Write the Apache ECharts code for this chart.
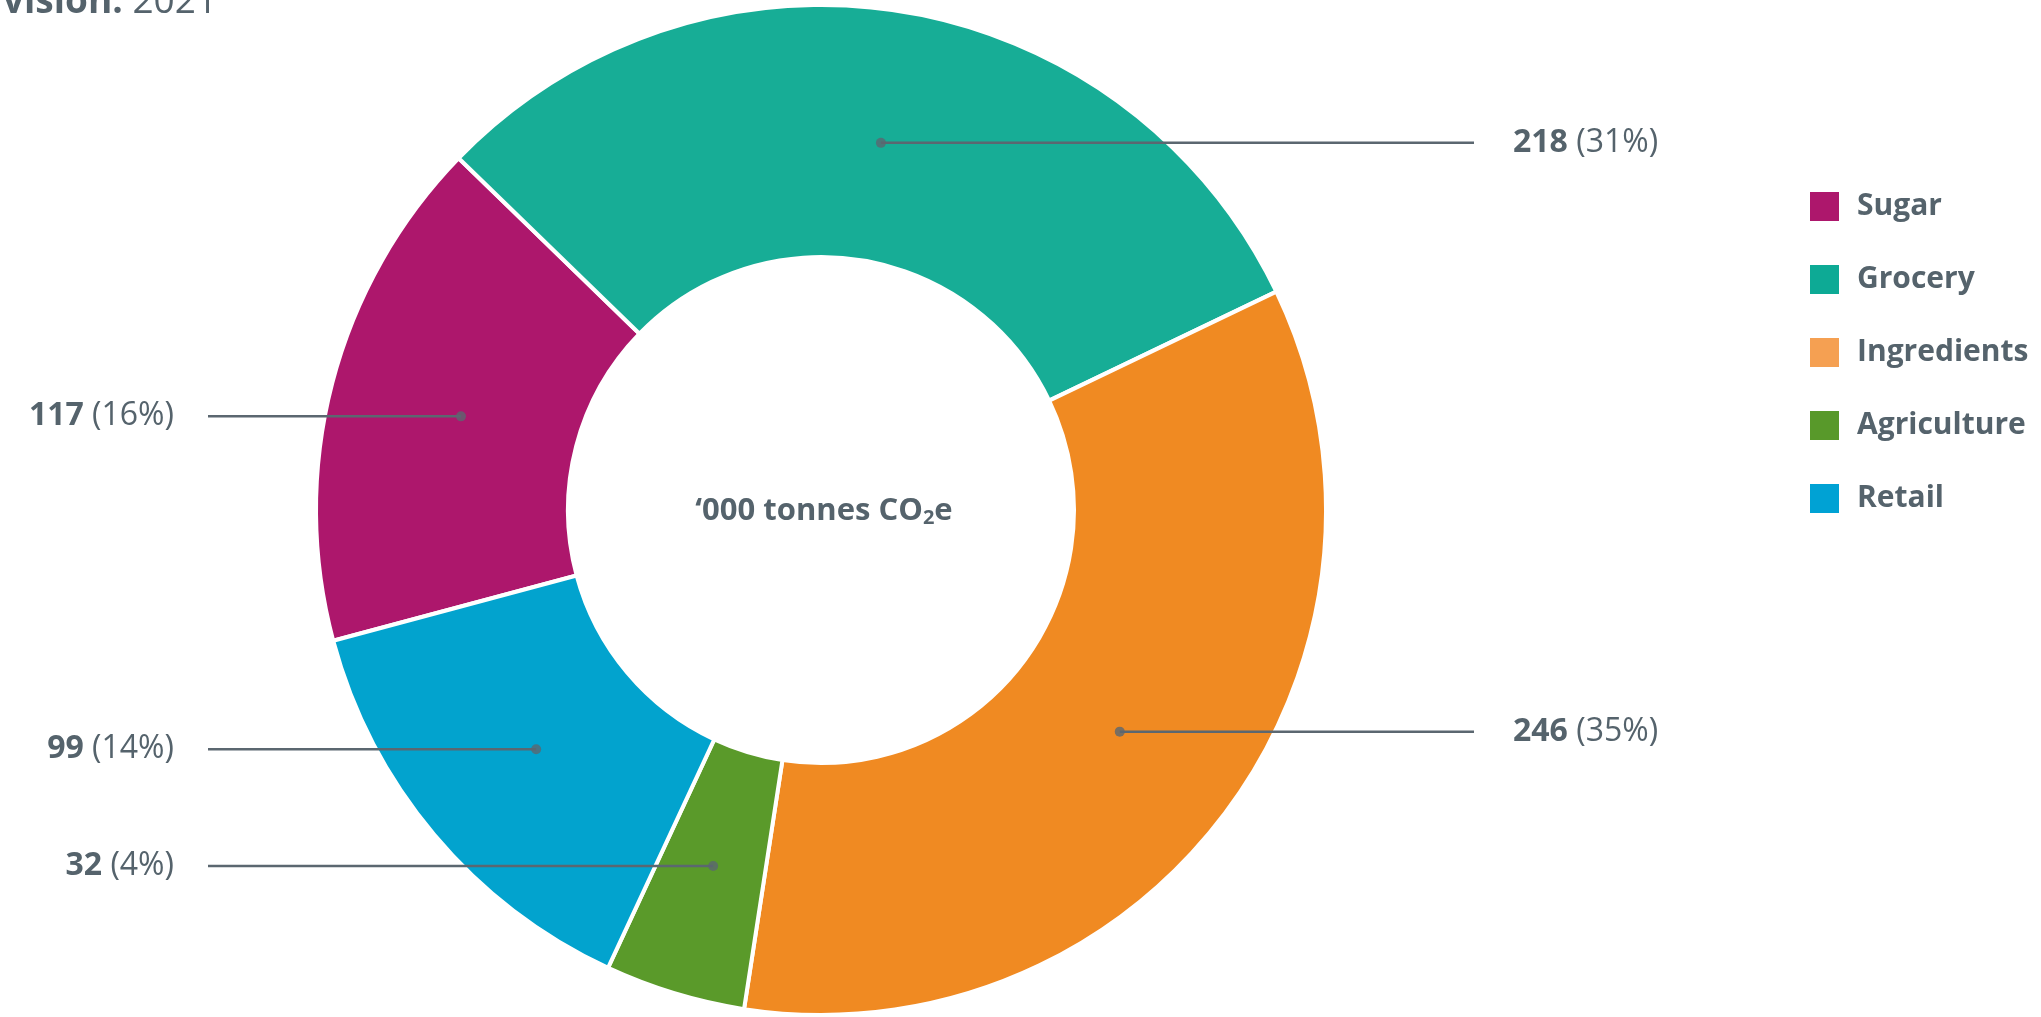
<!DOCTYPE html>
<html>
<head>
<meta charset="utf-8">
<title>Emissions by division 2021</title>
<script src="https://cdn.jsdelivr.net/npm/echarts@6/dist/echarts.min.js"></script>
<style>
  html, body { margin: 0; padding: 0; background: #ffffff; }
  #chart { width: 2041px; height: 1017px; }
</style>
</head>
<body>
<div id="chart"></div>
<script>
// Emissions by division, thousand tonnes CO2e
const categories = ['Sugar', 'Grocery', 'Ingredients', 'Agriculture', 'Retail'];
const emissions = [117, 218, 246, 32, 99];
const sliceColors = ['#AD176C', '#17AD96', '#F08A22', '#5A9A2A', '#02A3CE'];
const legendColors = ['#AD176C', '#0DAA95', '#F5A052', '#58992A', '#00A2D4'];

const FONT = '"Open Sans", "Noto Sans", sans-serif';
const TEXT = '#55636C';
const LINE = '#5B6770';

const CX = 821, CY = 510;          // donut centre
const R_OUT = 505, R_IN = 253;     // donut radii
const DOT_R = 372;                 // radius where leader lines start
const START = 195;                 // first slice start angle

const total = emissions.reduce((a, b) => a + b, 0);
const mids = [];
let acc = 0;
emissions.forEach(v => { mids.push(acc + v / 2); acc += v; });

const pieData = categories.map((name, i) => ({
  name, value: emissions[i], itemStyle: { color: sliceColors[i] }
}));

const chart = echarts.init(document.getElementById('chart'));

chart.setOption({
  animation: false,
  backgroundColor: '#ffffff',
  graphic: [
    {
      type: 'text', left: 3, top: -16,
      style: {
        text: '{b|vision:}{r| 2021}',
        rich: {
          b: { fontFamily: FONT, fontSize: 37, fontWeight: 'bold', fill: TEXT },
          r: { fontFamily: FONT, fontSize: 37, fill: TEXT }
        }
      }
    },
    {
      type: 'text', x: CX + 3, y: CY + 1,
      style: {
        text: '{b|‘000 tonnes CO}{s|2}{b|e}',
        align: 'center', verticalAlign: 'middle',
        rich: {
          b: { fontFamily: FONT, fontSize: 31, fontWeight: 'bold', fill: TEXT },
          s: { fontFamily: FONT, fontSize: 20, fontWeight: 'bold', fill: TEXT, padding: [14, 0, 0, 0] }
        }
      }
    }
  ],
  legend: {
    orient: 'vertical',
    left: 1808, top: 190,
    padding: 0,
    itemWidth: 31, itemHeight: 31, itemGap: 40,
    icon: 'rect',
    selectedMode: false,
    data: categories.map((name, i) => ({ name, itemStyle: { color: legendColors[i] } })),
    textStyle: {
      fontFamily: FONT, fontSize: 30, fontWeight: 'bold', color: TEXT,
      lineHeight: 31, padding: [0, 0, 0, 12]
    }
  },
  polar: { center: [CX, CY], radius: R_OUT },
  angleAxis: {
    type: 'value', min: 0, max: total, startAngle: START, clockwise: true,
    axisLine: { show: false }, axisTick: { show: false }, axisLabel: { show: false }, splitLine: { show: false }
  },
  radiusAxis: {
    type: 'value', min: 0, max: R_OUT,
    axisLine: { show: false }, axisTick: { show: false }, axisLabel: { show: false }, splitLine: { show: false }
  },
  series: [
    {
      type: 'pie',
      center: [CX, CY],
      radius: [R_IN, R_OUT],
      startAngle: START,
      clockwise: true,
      silent: true,
      itemStyle: { borderColor: '#ffffff', borderWidth: 4 },
      label: { show: false },
      labelLine: { show: false },
      data: pieData
    },
    {
      // invisible ring whose label lines carry the value labels
      type: 'pie',
      center: [CX, CY],
      radius: [0, DOT_R],
      startAngle: START,
      clockwise: true,
      silent: true,
      avoidLabelOverlap: false,
      z: 5,
      itemStyle: { color: 'rgba(0,0,0,0)', borderWidth: 0 },
      label: {
        show: true,
        position: 'outside',
        formatter: p => '{v|' + p.value + '}{p| (' + Math.round(p.value / total * 100) + '%)}',
        rich: {
          v: { fontFamily: FONT, fontSize: 32, fontWeight: 'bold', color: TEXT },
          p: { fontFamily: FONT, fontSize: 32, color: TEXT }
        }
      },
      labelLine: { show: true, length: 0, length2: 20, lineStyle: { color: LINE, width: 2.5 } },
      labelLayout: function (p) {
        const pts = p.labelLinePoints;
        if (!pts) return {};
        const sx = pts[0][0], sy = pts[0][1];
        const left = sx < CX;
        const endX = left ? 208 : 1474;
        return {
          x: left ? 174 : 1513,
          y: sy,
          align: left ? 'right' : 'left',
          verticalAlign: 'middle',
          labelLinePoints: [[sx, sy], [endX, sy], [endX, sy]]
        };
      },
      data: pieData.map(d => ({ name: d.name, value: d.value }))
    },
    {
      type: 'scatter',
      coordinateSystem: 'polar',
      silent: true,
      z: 6,
      symbol: 'circle',
      symbolSize: 10,
      itemStyle: { color: LINE },
      data: mids.map(m => [DOT_R, m])
    }
  ]
});
</script>
</body>
</html>
